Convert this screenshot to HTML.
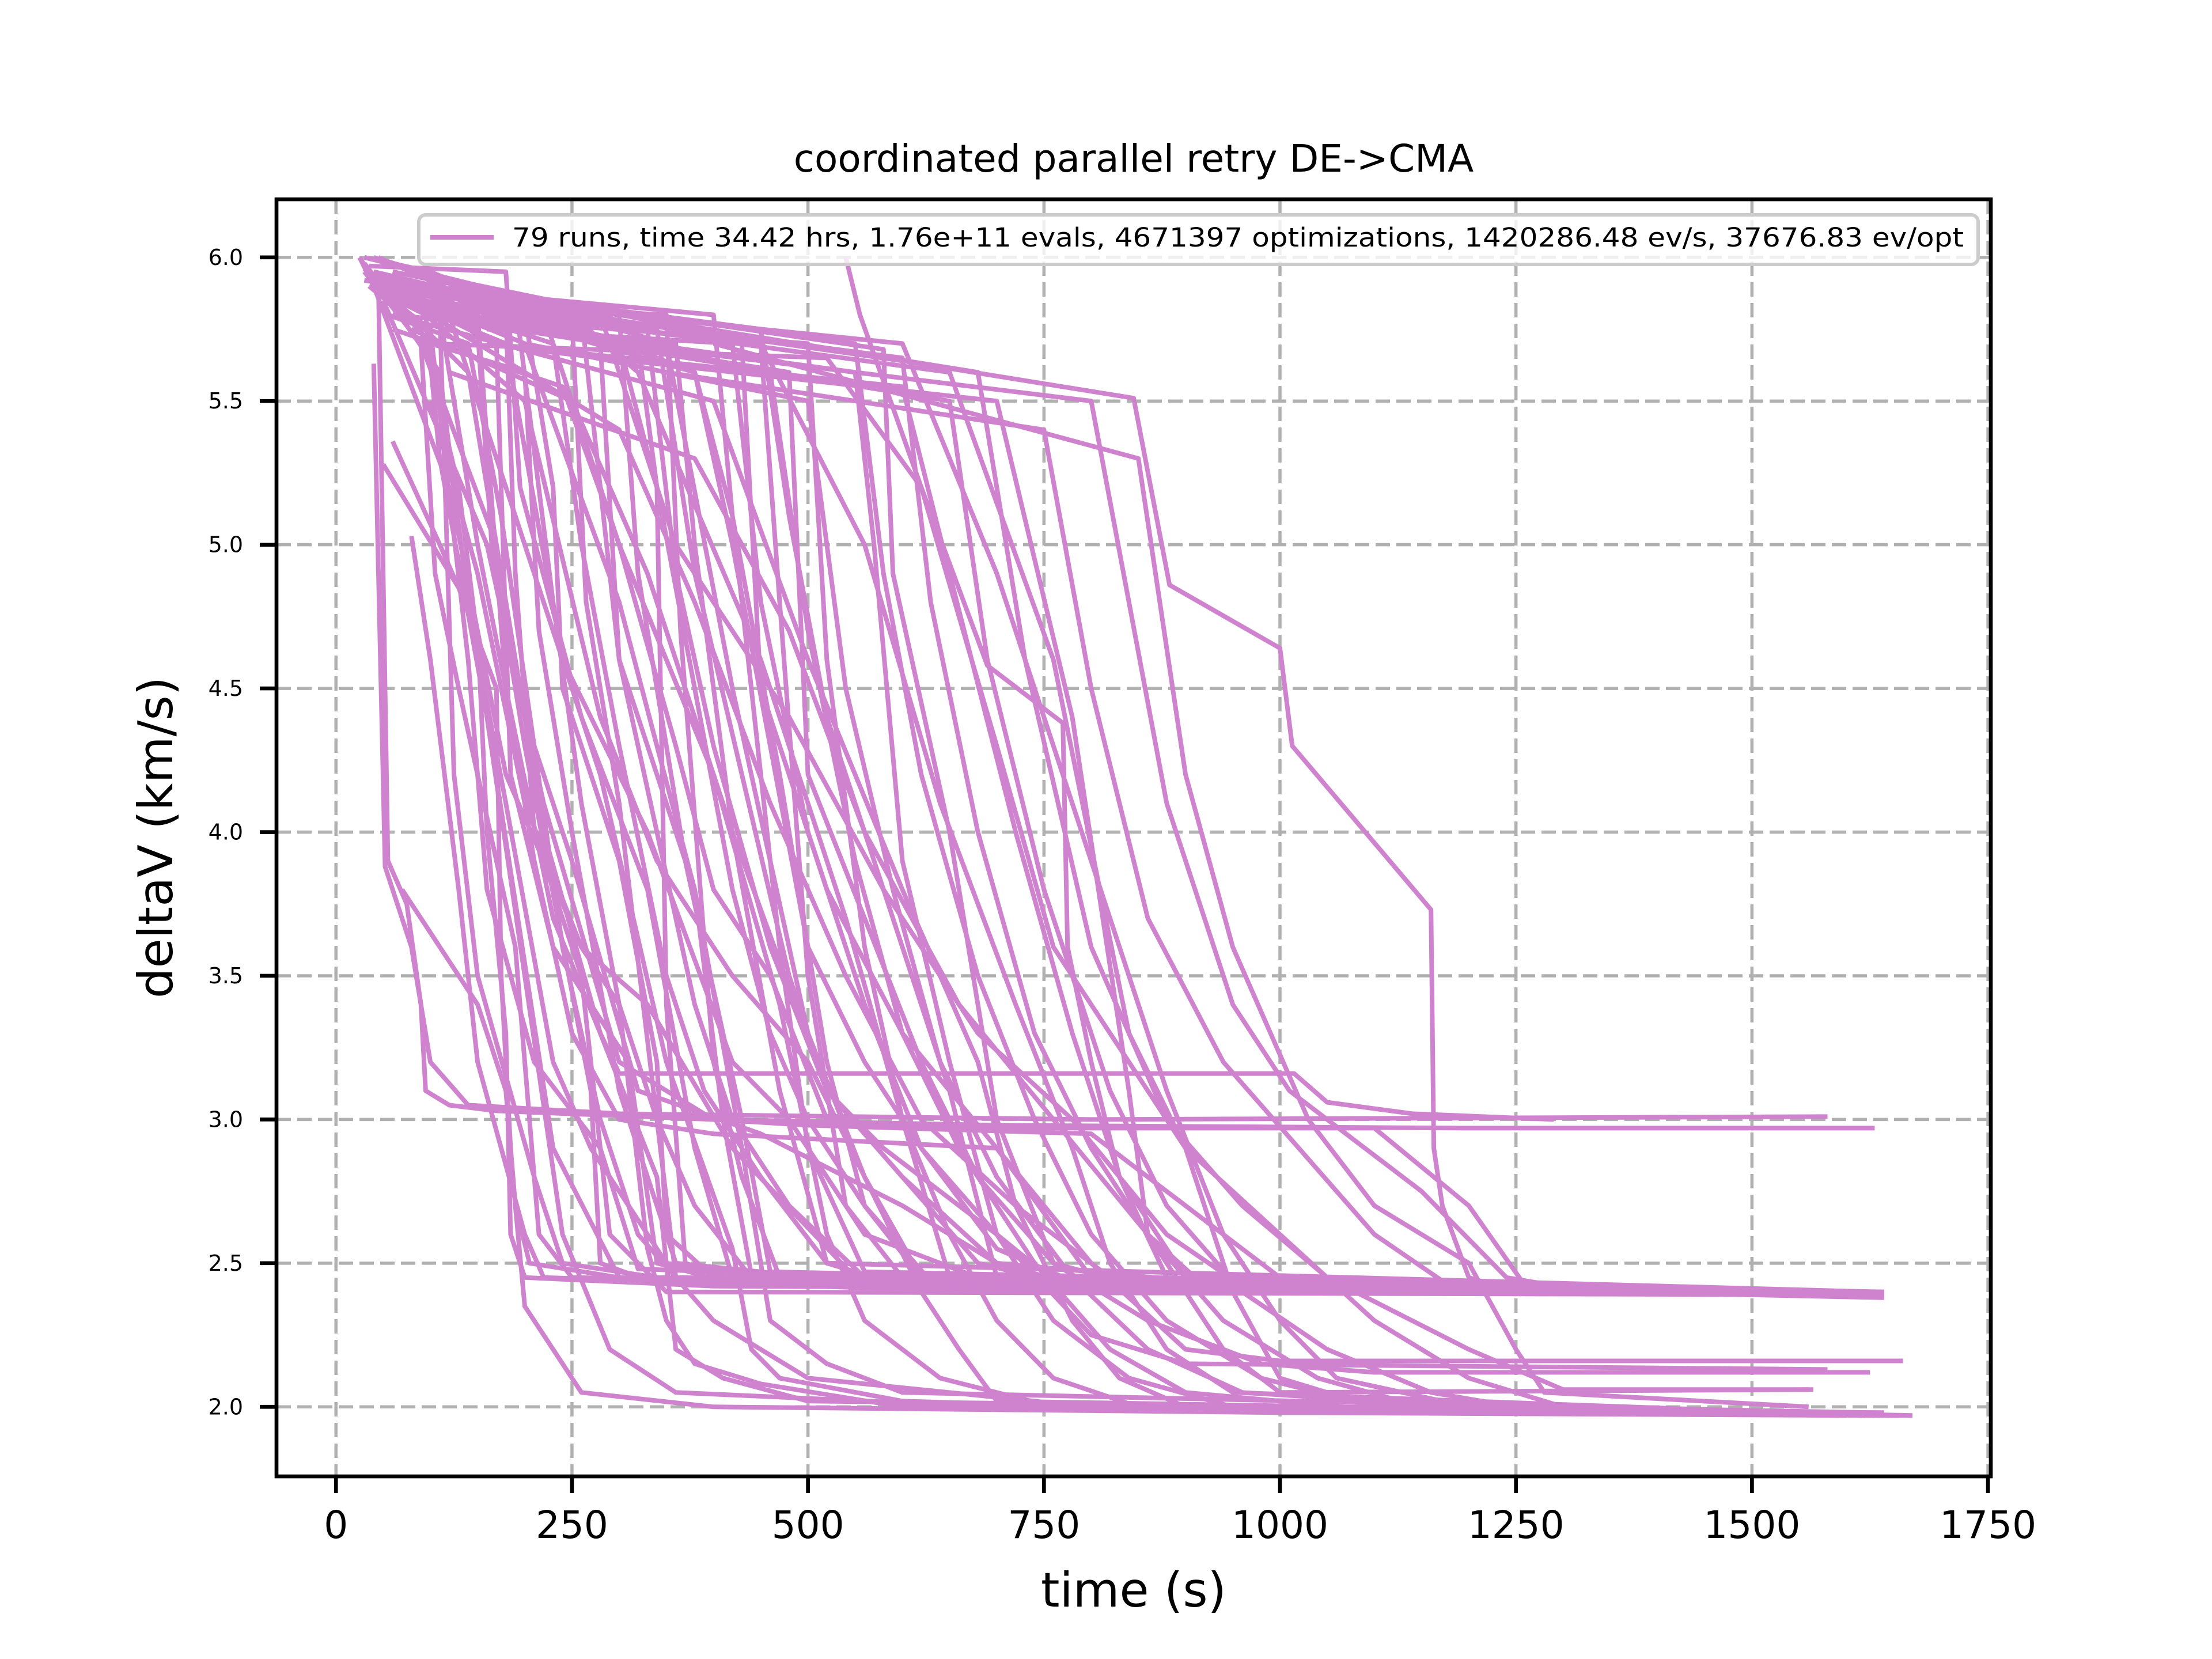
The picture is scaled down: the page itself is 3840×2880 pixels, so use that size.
<!DOCTYPE html>
<html><head><meta charset="utf-8"><style>
html,body{margin:0;padding:0;background:#fff;}
svg{display:block;}
text{font-family:"DejaVu Sans","Liberation Sans",sans-serif;fill:#000;}
</style></head><body>
<svg id="chart" xmlns="http://www.w3.org/2000/svg" width="3840" height="2880" viewBox="0 0 3840 2880">
<rect x="0" y="0" width="3840" height="2880" fill="#fff"/>
<defs><clipPath id="axclip"><rect x="480" y="346" width="2976" height="2217"/></clipPath></defs>
<g id="grid"></g>
<g id="series" clip-path="url(#axclip)"></g>
<g id="axes"></g>
<text x="1968" y="298" font-size="66" text-anchor="middle">coordinated parallel retry DE-&gt;CMA</text>
<text x="1968" y="2789" font-size="83" text-anchor="middle">time (s)</text>
<text x="0" y="0" font-size="83" text-anchor="middle" transform="translate(299,1454) rotate(-90)">deltaV (km/s)</text>
<g>
<rect x="727" y="373" width="2707" height="86" rx="12" fill="#fff" fill-opacity="0.8" stroke="#cccccc" stroke-width="6"/>
<line x1="747" y1="412" x2="857" y2="412" stroke="#cf83cf" stroke-width="8"/>
<text x="889" y="428" font-size="45" textLength="2520" lengthAdjust="spacingAndGlyphs">79 runs, time 34.42 hrs, 1.76e+11 evals, 4671397 optimizations, 1420286.48 ev/s, 37676.83 ev/opt</text>
</g>
</svg>
<script>
const xTicks = [0, 250, 500, 750, 1000, 1250, 1500, 1750];
const yTicks = [2.0, 2.5, 3.0, 3.5, 4.0, 4.5, 5.0, 5.5, 6.0];
const xDomain = [-63, 1753];
const yDomain = [1.758, 6.202];
const runs = [
[[25,6.0],[45,5.9],[55,3.9],[75,3.75],[90,3.4],[95,3.1],[120,3.05],[170,3.03],[400,3.0],[700,2.98],[1200,2.97],[1630,2.97]],
[[40,5.63],[52,3.88],[80,3.6],[100,3.2],[140,3.05],[300,3.02],[800,3.0],[1580,3.01]],
[[50,5.28],[130,4.85],[170,4.5],[175,3.5],[185,2.9],[190,2.7],[205,2.5],[300,2.45],[800,2.41],[1630,2.4]],
[[60,5.36],[110,5.0],[150,4.7],[160,4.0],[180,3.3],[185,2.6],[200,2.45],[400,2.42],[1620,2.4]],
[[80,5.03],[100,4.6],[130,3.8],[150,3.2],[200,2.6],[220,2.45],[600,2.41],[1600,2.39]],
[[70,3.8],[150,3.4],[180,3.1],[190,2.7],[200,2.35],[230,2.2],[260,2.05],[400,2.0],[1000,1.98],[1600,1.97]],
[[25,6.0],[40,5.9],[110,5.8],[125,4.2],[150,3.5],[210,2.8],[240,2.5],[340,2.45],[1640,2.39]],
[[30,5.98],[60,5.85],[100,5.75],[140,4.6],[160,3.8],[210,3.2],[280,2.9],[320,2.48],[900,2.41],[1640,2.4]],
[[30,5.95],[90,5.7],[105,4.9],[130,4.5],[190,3.6],[215,2.6],[250,2.45],[1630,2.39]],
[[35,5.9],[95,5.8],[110,5.3],[160,4.4],[230,2.9],[300,2.45],[1620,2.4]],
[[40,5.95],[150,5.75],[165,5.0],[200,4.3],[270,3.1],[280,2.5],[330,2.44],[1620,2.4]],
[[45,6.0],[180,5.8],[190,4.9],[210,4.0],[260,3.5],[290,2.6],[350,2.4],[1620,2.39]],
[[50,5.9],[170,5.7],[185,4.2],[230,3.6],[310,3.2],[340,2.5],[420,2.43],[1630,2.4]],
[[60,5.85],[100,5.7],[200,5.6],[215,4.7],[250,4.0],[300,3.1],[360,2.5],[600,2.42],[1640,2.39]],
[[35,5.97],[180,5.95],[195,5.2],[260,4.4],[330,3.8],[380,2.9],[420,2.45],[1620,2.4]],
[[30,5.95],[200,5.8],[230,5.2],[240,4.5],[300,3.9],[340,3.2],[350,2.6],[400,2.45],[1600,2.39]],
[[50,5.92],[250,5.78],[265,4.8],[300,4.1],[340,3.0],[360,2.45],[1620,2.4]],
[[30,6.0],[100,5.95],[280,5.7],[300,4.6],[380,3.8],[410,3.0],[440,2.46],[1620,2.4]],
[[40,5.9],[300,5.8],[320,4.9],[370,3.9],[430,3.0],[460,2.47],[1610,2.39]],
[[45,5.88],[320,5.7],[340,5.2],[350,3.4],[370,2.5],[440,2.42],[1630,2.4]],
[[50,5.85],[350,5.8],[365,4.7],[400,3.2],[430,2.8],[470,2.45],[1620,2.4]],
[[60,5.8],[360,5.7],[380,5.0],[420,4.0],[470,3.1],[520,2.5],[1630,2.4]],
[[70,5.9],[400,5.8],[420,5.1],[470,3.6],[500,2.9],[560,2.47],[1620,2.4]],
[[80,5.95],[450,5.7],[470,4.8],[500,3.5],[540,2.7],[600,2.45],[1620,2.39]],
[[90,5.8],[500,5.7],[520,4.6],[560,3.6],[600,3.0],[650,2.45],[1630,2.4]],
[[100,5.8],[550,5.6],[570,5.0],[600,3.9],[650,3.2],[700,2.6],[760,2.44],[1620,2.4]],
[[120,5.9],[580,5.68],[590,4.9],[650,4.0],[700,3.0],[760,2.5],[850,2.42],[1630,2.39]],
[[540,6.0],[555,5.8],[620,5.2],[690,4.58],[770,4.38],[775,3.6],[800,3.2],[830,2.8],[880,2.45],[1640,2.39]],
[[160,5.7],[600,5.55],[650,4.9],[720,4.0],[780,3.3],[830,2.8],[900,2.45],[1640,2.4]],
[[200,5.68],[700,5.5],[780,4.4],[840,3.1],[860,2.6],[920,2.42],[1620,2.39]],
[[60,5.9],[380,5.6],[420,5.1],[470,4.2],[520,3.2],[560,2.7],[620,2.45],[1640,2.38]],
[[40,5.9],[150,5.8],[180,4.5],[230,3.7],[280,3.3],[300,3.16],[1015,3.16],[1050,3.06],[1140,3.02],[1290,3.0]],
[[100,5.5],[150,4.9],[200,4.1],[260,3.6],[300,3.4],[330,2.55],[350,2.3],[380,2.15],[450,2.08],[600,2.0],[1600,1.97]],
[[90,5.7],[170,5.0],[220,4.0],[280,3.3],[340,2.8],[360,2.2],[410,2.1],[500,2.02],[1620,1.98]],
[[30,5.95],[120,5.8],[200,5.0],[280,4.2],[350,3.2],[420,2.55],[440,2.2],[470,2.1],[600,2.02],[1000,1.98],[1660,1.97]],
[[50,5.9],[200,5.7],[300,4.8],[380,3.8],[430,2.9],[460,2.3],[520,2.15],[600,2.05],[1580,1.98]],
[[70,5.85],[220,5.8],[300,5.0],[400,4.2],[470,3.4],[520,2.6],[560,2.3],[640,2.1],[760,2.0],[1600,1.98]],
[[40,6.0],[350,5.7],[420,4.5],[500,3.3],[560,2.8],[620,2.4],[660,2.2],[700,2.02],[1620,1.97]],
[[30,5.92],[250,5.8],[320,5.6],[450,4.6],[540,3.7],[600,3.0],[650,2.6],[700,2.3],[760,2.1],[850,2.0],[1640,1.97]],
[[60,5.8],[400,5.5],[500,4.6],[600,3.8],[680,3.2],[720,2.7],[780,2.3],[830,2.1],[900,2.0],[1600,1.98]],
[[80,5.9],[450,5.7],[560,5.0],[640,4.1],[720,3.4],[780,2.9],[820,2.5],[880,2.2],[950,2.05],[1620,1.97]],
[[100,5.7],[520,5.65],[620,5.2],[700,4.3],[760,3.6],[820,3.3],[900,2.9],[950,2.4],[1000,2.1],[1100,2.0],[1650,1.97]],
[[150,5.85],[600,5.7],[700,4.9],[820,3.7],[880,3.1],[940,2.6],[1000,2.3],[1060,2.1],[1200,2.0],[1670,1.97]],
[[200,5.8],[650,5.6],[760,4.6],[840,3.3],[900,2.9],[1000,2.6],[1100,2.3],[1200,2.1],[1300,2.0],[1620,1.98]],
[[300,5.7],[800,5.5],[880,4.1],[950,3.4],[1010,3.1],[1150,2.75],[1240,2.45],[1330,2.4],[1620,2.39]],
[[40,5.9],[120,5.2],[180,4.2],[260,3.6],[330,3.4],[420,2.9],[550,2.45],[1630,2.4]],
[[50,5.85],[160,5.0],[220,4.1],[300,3.2],[400,3.0],[500,2.98],[800,2.95],[900,2.7],[1000,2.45],[1620,2.4]],
[[60,5.9],[200,5.5],[280,4.4],[340,3.9],[420,3.5],[500,3.2],[560,2.8],[620,2.45],[1600,2.4]],
[[30,5.96],[140,5.6],[200,4.4],[250,3.9],[320,3.1],[450,2.95],[600,2.7],[700,2.5],[800,2.41],[1640,2.39]],
[[45,5.88],[180,5.7],[240,4.6],[330,4.0],[420,3.2],[480,3.0],[560,2.6],[680,2.45],[1620,2.4]],
[[80,5.75],[250,5.5],[330,4.9],[420,4.0],[520,3.1],[600,2.8],[700,2.5],[1000,2.41],[1620,2.39]],
[[100,5.8],[300,5.4],[380,4.8],[460,4.1],[540,3.5],[620,3.0],[720,2.7],[820,2.45],[1630,2.39]],
[[60,5.95],[280,5.8],[360,5.0],[480,4.4],[580,3.8],[680,3.3],[780,3.0],[880,2.6],[960,2.42],[1620,2.4]],
[[120,5.6],[380,5.3],[480,4.7],[560,4.0],[660,3.4],[760,3.0],[860,2.6],[940,2.2],[1000,2.05],[1565,2.06]],
[[40,5.9],[330,5.75],[360,4.9],[400,4.3],[460,3.6],[520,3.1],[580,2.9],[700,2.6],[800,2.25],[900,2.15],[1580,2.13]],
[[70,5.85],[430,5.7],[450,4.5],[520,3.8],[600,3.3],[700,2.9],[800,2.5],[900,2.2],[1000,2.16],[1660,2.16]],
[[90,5.8],[480,5.6],[500,4.2],[560,3.7],[620,3.2],[680,2.8],[760,2.5],[860,2.3],[980,2.15],[1100,2.12],[1625,2.12]],
[[30,5.97],[110,5.6],[140,4.8],[180,4.1],[230,3.2],[270,2.9],[350,2.5],[500,2.42],[1620,2.4]],
[[35,5.9],[90,5.75],[130,5.2],[160,4.4],[200,3.5],[240,2.6],[290,2.2],[360,2.05],[700,2.0],[1600,1.98]],
[[40,5.95],[105,5.9],[150,5.0],[180,4.5],[210,3.9],[250,3.3],[300,3.0],[400,2.95],[700,2.9],[800,2.45],[1620,2.4]],
[[55,5.8],[140,5.7],[175,5.1],[210,4.3],[240,3.6],[280,3.0],[320,2.6],[400,2.3],[500,2.1],[800,2.0],[1620,1.98]],
[[70,5.92],[190,5.85],[230,4.8],[260,4.1],[300,3.4],[340,3.0],[380,2.7],[440,2.45],[1620,2.4]],
[[80,5.86],[230,5.7],[260,5.0],[300,4.3],[350,3.5],[390,3.1],[450,2.8],[520,2.5],[600,2.42],[1640,2.4]],
[[90,5.9],[260,5.8],[300,4.6],[340,4.0],[380,3.4],[420,3.0],[480,2.7],[560,2.45],[1620,2.39]],
[[100,5.85],[300,5.7],[340,5.2],[380,4.5],[420,3.8],[460,3.3],[500,3.0],[560,2.7],[640,2.4],[1630,2.39]],
[[120,5.8],[340,5.75],[380,4.9],[430,4.2],[480,3.5],[520,3.1],[600,2.8],[680,2.5],[780,2.42],[1630,2.4]],
[[140,5.9],[380,5.6],[420,5.0],[460,4.3],[500,3.6],[560,3.2],[620,2.9],[700,2.55],[800,2.41],[1620,2.4]],
[[160,5.75],[420,5.7],[450,4.8],[500,4.0],[560,3.4],[620,2.9],[700,2.6],[760,2.3],[840,2.1],[950,2.0],[1620,1.97]],
[[180,5.8],[460,5.6],[500,4.7],[550,3.9],[600,3.3],[660,2.9],[740,2.5],[820,2.2],[900,2.05],[1100,1.99],[1640,1.98]],
[[200,5.7],[500,5.5],[540,4.5],[590,3.8],[640,3.2],[700,2.8],[780,2.45],[860,2.2],[960,2.05],[1200,2.0],[1650,1.97]],
[[220,5.85],[550,5.7],[580,4.9],[620,4.2],[680,3.5],[740,3.0],[800,2.6],[880,2.3],[980,2.1],[1100,2.0],[1630,1.97]],
[[250,5.8],[600,5.65],[630,4.8],[680,4.0],[740,3.3],[800,2.9],[860,2.6],[940,2.3],[1040,2.1],[1150,2.0],[1600,1.98]],
[[280,5.7],[650,5.5],[690,4.6],[750,3.8],[820,3.1],[880,2.7],[960,2.4],[1050,2.2],[1160,2.05],[1250,2.0],[1580,1.98]],
[[300,5.8],[680,5.6],[730,4.6],[800,3.6],[880,3.0],[960,2.7],[1050,2.45],[1200,2.2],[1300,2.06],[1560,2.06]],
[[350,5.6],[750,5.4],[800,4.5],[860,3.7],[940,3.2],[1020,2.9],[1100,2.6],[1180,2.42],[1640,2.39]],
[[400,5.7],[850,5.3],[900,4.2],[950,3.6],[1030,3.0],[1100,2.7],[1200,2.5],[1250,2.2],[1280,2.05],[1560,2.0]],
[[60,5.75],[240,5.55],[300,5.0],[360,4.3],[400,3.8],[460,3.5],[520,3.0],[620,2.97],[1100,2.97],[1200,2.7],[1260,2.42],[1620,2.4]],
[[100,5.9],[450,5.75],[480,5.1],[520,4.4],[560,4.0],[600,3.6],[650,3.1],[700,2.45],[1620,2.4]],
[[30,6.0],[300,5.78],[600,5.64],[845,5.51],[883,4.86],[1000,4.64],[1013,4.3],[1160,3.73],[1163,2.9],[1172,2.7],[1200,2.45],[1250,2.4],[1640,2.39]]
];

const NS = "http://www.w3.org/2000/svg";
const AX = {left:480, right:3456, top:346, bottom:2563};
function xs(v){ return AX.left + (v - xDomain[0]) / (xDomain[1] - xDomain[0]) * (AX.right - AX.left); }
function ys(v){ return AX.bottom - (v - yDomain[0]) / (yDomain[1] - yDomain[0]) * (AX.bottom - AX.top); }
function mk(tag, attrs, parent){
  const e = document.createElementNS(NS, tag);
  for (const k in attrs) e.setAttribute(k, attrs[k]);
  parent.appendChild(e);
  return e;
}
const grid = document.getElementById('grid');
const series = document.getElementById('series');
const axes = document.getElementById('axes');
const gridStyle = {stroke:'#b0b0b0','stroke-width':5.5,'stroke-dasharray':'25 11'};

xTicks.forEach(function(t){
  const x = xs(t);
  const g = mk('line', Object.assign({x1:x, x2:x, y1:AX.top, y2:AX.bottom}, gridStyle), grid);
  
  
  const tk = mk('line', {x1:x, x2:x, y1:AX.bottom, y2:AX.bottom + 29, stroke:'#000', 'stroke-width':6.67}, axes);
  
  
  const lb = mk('text', {x:x, y:2670, 'font-size':66, 'text-anchor':'middle'}, axes);
  lb.textContent = String(t);
  
  
});
yTicks.forEach(function(t){
  const y = ys(t);
  const g = mk('line', Object.assign({x1:AX.left, x2:AX.right, y1:y, y2:y}, gridStyle), grid);
  
  
  const tk = mk('line', {x1:AX.left - 29, x2:AX.left, y1:y, y2:y, stroke:'#000', 'stroke-width':6.67}, axes);
  
  
  const lb = mk('text', {x:422, y:y + 13, 'font-size':38, 'text-anchor':'end'}, axes);
  lb.textContent = t.toFixed(1);
  
  
});
runs.forEach(function(run){
  const pts = run.map(function(p){ return xs(p[0]).toFixed(1) + ',' + ys(p[1]).toFixed(1); }).join(' ');
  const pl = mk('polyline', {points:pts, fill:'none', stroke:'#cf83cf', 'stroke-width':8, 'stroke-linejoin':'round'}, series);
  
  
});
const frame = mk('rect', {x:AX.left, y:AX.top, width:AX.right - AX.left, height:AX.bottom - AX.top, fill:'none', stroke:'#000', 'stroke-width':6.67}, axes);


</script>
</body></html>
